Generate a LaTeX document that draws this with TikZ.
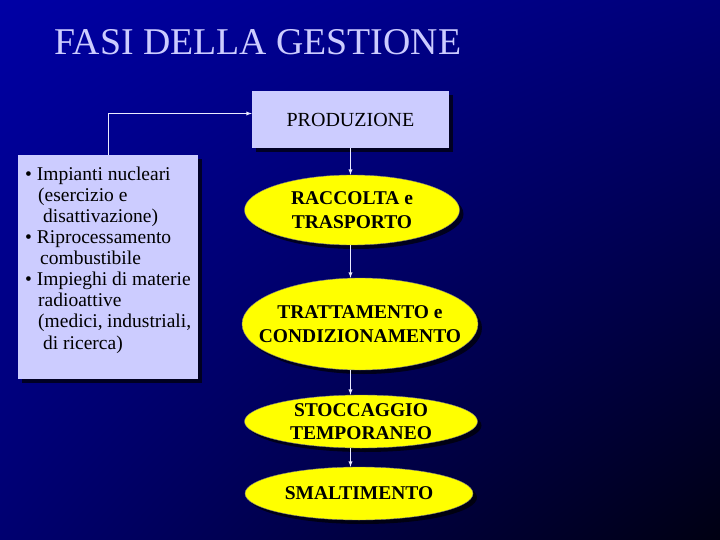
\documentclass[tikz,border=0pt]{standalone}
\usepackage{fontspec}
\setmainfont{Liberation Serif}
\usepackage{tikz}
\usetikzlibrary{shapes,arrows,shadows,shadings}

\definecolor{lavanda}{RGB}{204,204,255}
\definecolor{giallo}{RGB}{255,255,0}
\definecolor{bluA}{RGB}{0,0,165}
\definecolor{bluB}{RGB}{0,0,120}
\definecolor{bluC}{RGB}{0,0,112}
\definecolor{bluD}{RGB}{0,0,18}

\begin{document}
\begin{tikzpicture}[x=1pt,y=-1pt,
  ombra/.style={drop shadow={shadow xshift=4pt,shadow yshift=-4pt,fill=black,opacity=.7}},
  scatola/.style={rectangle,fill=lavanda,inner sep=0pt,ombra},
  fase/.style={ellipse,fill=giallo,draw=black!50,inner xsep=-25pt,inner ysep=0pt,ombra,
    font=\fontsize{19.5}{23.5}\selectfont\bfseries,align=center},
  flusso/.style={->,>=latex,draw=lavanda!40!white,line width=0.9pt}]
\useasboundingbox (0,0) rectangle (720,540);
\shade[upper left=bluA,upper right=bluB,lower left=bluC,lower right=bluD]
  (0,0) rectangle (720,540);

\node[anchor=base west,text=lavanda,font=\fontsize{37.8}{40}\selectfont] (titolo) at (51,55) {FASI DELLA GESTIONE};

\node[scatola,minimum width=197pt,minimum height=57pt,font=\fontsize{20}{24}\selectfont] (prod) at (350.5,119.5) {PRODUZIONE};

\node[scatola,anchor=north west,minimum width=180pt,minimum height=224pt,inner xsep=7pt,
  font=\fontsize{19.5}{21.1}\selectfont] (fonti) at (18,155)
  {\parbox[t][224pt][t]{166pt}{\vspace*{11.5pt}%
  • Impianti nucleari\\
  \hspace*{13pt}(esercizio e\\
  \hspace*{18pt}disattivazione)\\
  • Riprocessamento\\
  \hspace*{15pt}combustibile\\
  • Impieghi di materie\\
  \hspace*{13pt}radioattive\\
  \hspace*{13pt}(medici, industriali,\\
  \hspace*{18pt}di ricerca)}};

\node[fase,minimum width=215pt,minimum height=70pt] (racc) at (352,210) {RACCOLTA e\\TRASPORTO};
\node[fase,minimum width=236pt,minimum height=92pt] (tratt) at (360,324) {TRATTAMENTO e\\CONDIZIONAMENTO};
\node[fase,minimum width=233pt,minimum height=53pt] (stocc) at (361,421.5) {STOCCAGGIO\\TEMPORANEO};
\node[fase,minimum width=228pt,minimum height=53pt] (smalt) at (359,493.5) {SMALTIMENTO};

\draw[flusso] (fonti.north) |- ([yshift=6pt]prod.west);
\foreach \a/\b in {prod/racc,racc/tratt,tratt/stocc,stocc/smalt}
  \draw[flusso] (\a.south -| prod.south) -- (\b.north -| prod.south);

\end{tikzpicture}
\end{document}
